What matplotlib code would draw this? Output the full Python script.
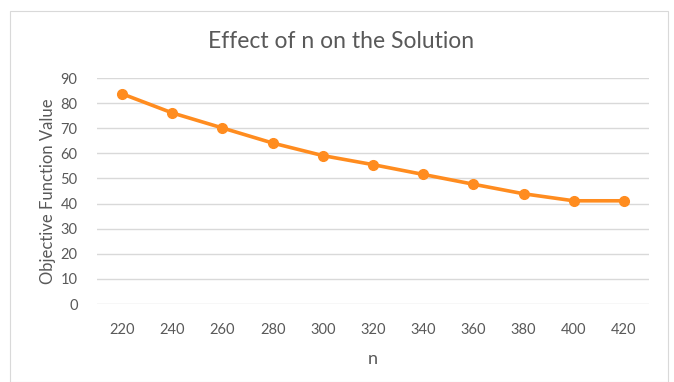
import matplotlib
matplotlib.use("Agg")
import matplotlib.pyplot as plt
from matplotlib.patches import Rectangle

plt.rcParams["font.family"] = ["Lato", "DejaVu Sans"]

# data
n_values = ["220", "240", "260", "280", "300", "320", "340", "360", "380", "400", "420"]
objective = [83.7, 76.1, 70.1, 64.1, 59.1, 55.5, 51.6, 47.7, 43.9, 41.1, 41.1]
y_ticks = [0, 10, 20, 30, 40, 50, 60, 70, 80, 90]

TEXT = "#595959"
GRID = "#D9D9D9"
ORANGE = "#FF8C1F"

fig = plt.figure(figsize=(6.74, 3.82), dpi=100)
fig.patches.append(Rectangle((10 / 674, 0), 658 / 674, 371 / 382, transform=fig.transFigure,
                             fill=False, edgecolor="#D9D9D9", linewidth=0.8))

ax = fig.add_axes([97 / 674, (382 - 304) / 382, 552 / 674, 226 / 382])
x = list(range(len(n_values)))
ax.plot(x, objective, color=ORANGE, linewidth=2.6, marker="o", markersize=7, zorder=3)

ax.set_xlim(-0.5, len(n_values) - 0.5)
ax.set_ylim(0, 90)
ax.set_yticks(y_ticks)
ax.set_xticks(x)
ax.set_xticklabels(n_values)
ax.grid(axis="y", color=GRID, linewidth=1)
ax.set_axisbelow(True)
for s in ax.spines.values():
    s.set_visible(False)
ax.tick_params(length=0, colors=TEXT, labelsize=10.5)
ax.tick_params(axis="x", pad=14)
ax.tick_params(axis="y", pad=14)

# title centred on the whole chart, not the plot area
fig.text(341 / 674, 1 - 42 / 382, "Effect of n on the Solution", color=TEXT, fontsize=16.5,
         ha="center", va="center")
ax.set_xlabel("n", color=TEXT, fontsize=13, labelpad=10)
ax.set_ylabel("Objective Function Value", color=TEXT, fontsize=12, va="center")
ax.yaxis.set_label_coords(-0.088, 0.5)

fig.savefig("out.png", dpi=100)
